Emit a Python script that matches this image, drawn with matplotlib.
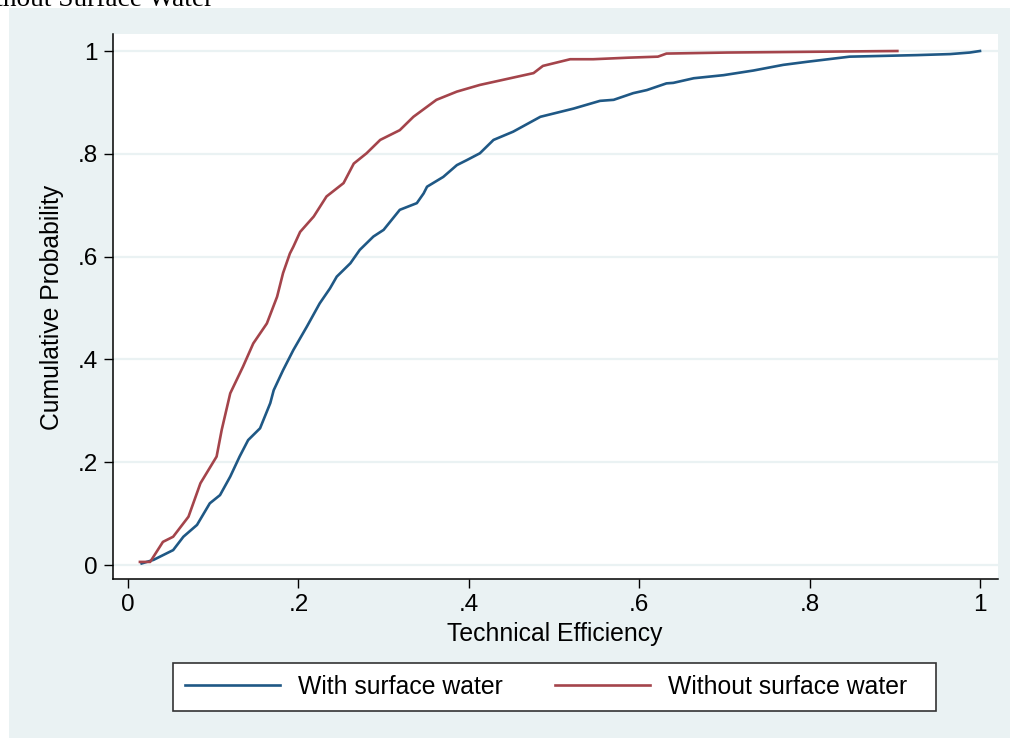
import matplotlib
matplotlib.use("Agg")
import matplotlib.pyplot as plt
from matplotlib.patches import Rectangle
from matplotlib.lines import Line2D

# cumulative distribution of technical efficiency
with_x = [0.016, 0.030, 0.053, 0.065, 0.081, 0.096, 0.108, 0.120, 0.131, 0.141,
          0.155, 0.167, 0.171, 0.182, 0.194, 0.210, 0.225, 0.237, 0.245, 0.253,
          0.261, 0.272, 0.288, 0.300, 0.319, 0.339, 0.347, 0.351, 0.370, 0.386,
          0.398, 0.413, 0.429, 0.452, 0.484, 0.523, 0.554, 0.570, 0.593, 0.609,
          0.632, 0.640, 0.664, 0.699, 0.734, 0.769, 0.797, 0.847, 0.926, 0.965,
          0.988, 1.000]
with_y = [0.003, 0.010, 0.029, 0.055, 0.078, 0.120, 0.136, 0.172, 0.211, 0.243,
          0.266, 0.315, 0.340, 0.379, 0.418, 0.464, 0.509, 0.538, 0.561, 0.574,
          0.587, 0.613, 0.639, 0.652, 0.691, 0.704, 0.723, 0.736, 0.755, 0.778,
          0.788, 0.801, 0.827, 0.843, 0.872, 0.888, 0.903, 0.905, 0.918, 0.924,
          0.937, 0.938, 0.947, 0.953, 0.962, 0.973, 0.979, 0.989, 0.992, 0.994,
          0.997, 1.000]

without_x = [0.014, 0.026, 0.041, 0.053, 0.071, 0.085, 0.104, 0.110, 0.120, 0.135,
             0.147, 0.163, 0.175, 0.182, 0.190, 0.194, 0.202, 0.218, 0.233, 0.253,
             0.265, 0.280, 0.296, 0.319, 0.335, 0.362, 0.386, 0.413, 0.476, 0.487,
             0.519, 0.546, 0.587, 0.622, 0.632, 0.703, 0.903]
without_y = [0.006, 0.006, 0.045, 0.055, 0.094, 0.159, 0.211, 0.263, 0.334, 0.386,
             0.431, 0.470, 0.522, 0.568, 0.606, 0.619, 0.648, 0.678, 0.717, 0.743,
             0.781, 0.801, 0.827, 0.846, 0.872, 0.905, 0.921, 0.934, 0.957, 0.971,
             0.984, 0.984, 0.987, 0.989, 0.995, 0.997, 1.000]

ticks = [0, 0.2, 0.4, 0.6, 0.8, 1.0]
tick_labels = ["0", ".2", ".4", ".6", ".8", "1"]

BG = "#EAF2F3"
BLUE = "#1F5885"
RED = "#A4444B"
FS = 17.8

plt.rcParams["font.family"] = ["Liberation Sans", "DejaVu Sans"]

W, H = 1010, 738
fig = plt.figure(figsize=(W / 100, H / 100), dpi=100)

# light panel behind everything (white strip on top/left like the source)
fig.patches.append(Rectangle((9 / W, 0), 1 - 9 / W, 1 - 8 / H, transform=fig.transFigure,
                             facecolor=BG, edgecolor="none", zorder=-10))

# clipped-off title from the original export
fig.text(213 / W, 1 - 6 / H, "Without Surface Water", ha="right", va="baseline",
         fontsize=19.7, family=["Liberation Serif", "DejaVu Serif"])

ax = fig.add_axes([113 / W, 1 - 579 / H, 885 / W, 545 / H])
ax.set_facecolor("white")
ax.plot(with_x, with_y, color=BLUE, lw=1.9, zorder=3)
ax.plot(without_x, without_y, color=RED, lw=1.9, zorder=3)

ax.set_xlim((113 - 128) / 852, (998 - 128) / 852)
ax.set_ylim((565 - 579) / 514, (565 - 34) / 514)
ax.set_xticks(ticks)
ax.set_xticklabels(tick_labels)
ax.set_yticks(ticks)
ax.set_yticklabels(tick_labels)
ax.grid(axis="y", color=BG, lw=1.6, zorder=1)
ax.grid(axis="x", visible=False)

for s in ["top", "right"]:
    ax.spines[s].set_visible(False)
for s in ["left", "bottom"]:
    ax.spines[s].set_linewidth(1.1)
    ax.spines[s].set_color("black")
ax.tick_params(axis="both", direction="out", length=6.5, width=1.0, labelsize=17.5)
ax.tick_params(axis="y", pad=4.3)
ax.tick_params(axis="x", pad=4.5)

fig.text(52 / W, 1 - 307 / H, "Cumulative Probability", rotation=90,
         ha="center", va="center", fontsize=FS)
fig.text(555 / W, 1 - 634 / H, "Technical Efficiency", ha="center", va="center",
         fontsize=FS)

# legend box drawn separately (Stata pads the right side more than the left)
fig.patches.append(Rectangle((173 / W, 1 - 711 / H), 763 / W, 48 / H,
                             transform=fig.transFigure, facecolor="white",
                             edgecolor="#333333", lw=1.2, zorder=1))
handles = [Line2D([], [], color=BLUE, lw=1.9), Line2D([], [], color=RED, lw=1.9)]
leg = fig.legend(handles, ["With surface water", "Without surface water"], ncol=2,
                 loc="center left", bbox_to_anchor=(185 / W, 1 - 687 / H),
                 fontsize=FS, frameon=False, handlelength=3.85, borderpad=0,
                 borderaxespad=0, handletextpad=0.73, columnspacing=2.1)
leg.set_zorder(2)

fig.savefig("out.png", dpi=100, facecolor="white")
